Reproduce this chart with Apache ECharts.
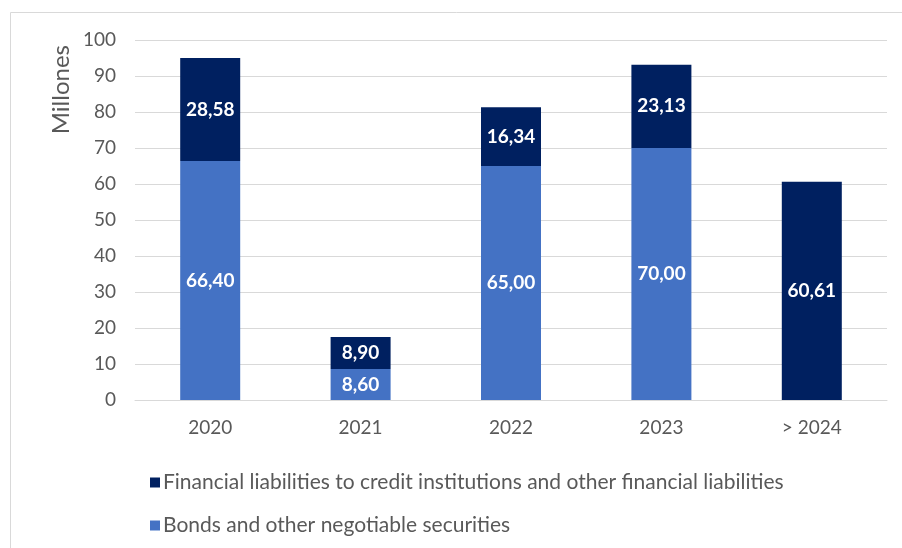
<!DOCTYPE html>
<html><head><meta charset="utf-8">
<script src="https://cdn.jsdelivr.net/npm/echarts@6/dist/echarts.min.js"></script>
<style>html,body{margin:0;padding:0;background:#fff}#c{width:902px;height:548px}</style>
</head><body><div id="c"></div>
<script>
const categories = ['2020', '2021', '2022', '2023', '> 2024'];
const bonds = [66.40, 8.60, 65.00, 70.00, null];
const financial = [28.58, 8.90, 16.34, 23.13, 60.61];
const yTicks = { min: 0, max: 100, interval: 10 };
const FONT = 'Lato, "Open Sans", sans-serif';
const fmt = p => p.value == null ? '' : p.value.toFixed(2).replace('.', ',');
const chart = echarts.init(document.getElementById('c'));
const legendText = { fontFamily: FONT, fontSize: 21, color: '#595959', padding: [0, 0, 0, -2] };
chart.setOption({
  animation: false,
  graphic: [{ type: 'rect', shape: { x: 10.5, y: 12.5, width: 900, height: 540 }, style: { fill: 'none', stroke: '#d9d9d9', lineWidth: 1 } }],
  grid: { left: 135, right: 15, top: 40, bottom: 148 },
  legend: [
    { data: ['Financial liabilities to credit institutions and other financial liabilities'], left: 145, top: 467, icon: 'rect', itemWidth: 10, itemHeight: 10, itemGap: 4, textStyle: legendText },
    { data: ['Bonds and other negotiable securities'], left: 145, top: 510, icon: 'rect', itemWidth: 10, itemHeight: 10, itemGap: 4, textStyle: legendText }
  ],
  xAxis: {
    type: 'category', data: categories,
    axisLine: { lineStyle: { color: '#d9d9d9', width: 1 } }, axisTick: { show: false },
    axisLabel: { fontFamily: FONT, fontSize: 19, color: '#595959', margin: 18 }
  },
  yAxis: {
    type: 'value', min: yTicks.min, max: yTicks.max, interval: yTicks.interval,
    name: 'Millones', nameLocation: 'end', nameRotate: 90, nameGap: 0,
    nameTextStyle: { fontFamily: FONT, fontSize: 24, color: '#595959', align: 'right', verticalAlign: 'bottom', padding: [0, 5, 62, 0] },
    axisLine: { show: false }, axisTick: { show: false },
    splitLine: { lineStyle: { color: '#d9d9d9', width: 1 } },
    axisLabel: { fontFamily: FONT, fontSize: 19, color: '#595959', margin: 19 }
  },
  series: [
    { name: 'Bonds and other negotiable securities', type: 'bar', stack: 's', data: bonds, barWidth: 60,
      itemStyle: { color: '#4472c4' },
      label: { show: true, position: 'inside', formatter: fmt, color: '#fff', fontFamily: FONT, fontWeight: 'bold', fontSize: 19 } },
    { name: 'Financial liabilities to credit institutions and other financial liabilities', type: 'bar', stack: 's', data: financial, barWidth: 60,
      itemStyle: { color: '#002060' },
      label: { show: true, position: 'inside', formatter: fmt, color: '#fff', fontFamily: FONT, fontWeight: 'bold', fontSize: 19 } }
  ]
});
</script></body></html>
